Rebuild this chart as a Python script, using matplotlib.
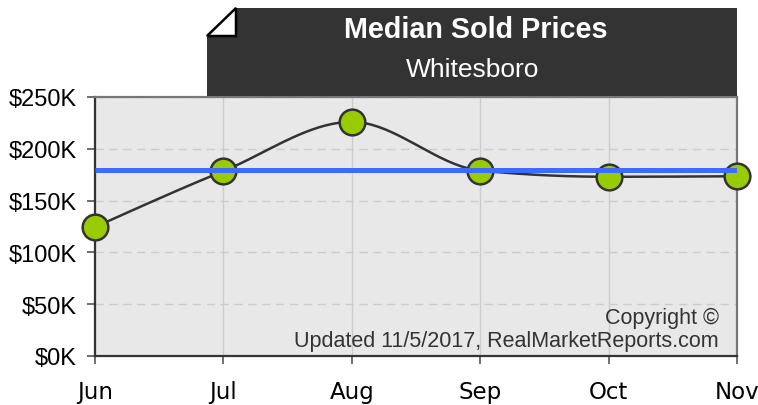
import numpy as np
import matplotlib
matplotlib.use('Agg')
import matplotlib.pyplot as plt
from matplotlib.patches import Polygon
from matplotlib.ticker import FuncFormatter

# data
months = ['Jun', 'Jul', 'Aug', 'Sep', 'Oct', 'Nov']
median_price = [124.5, 178.5, 226, 179, 173, 173.5]   # $K
avg_line = 180                                         # $K, blue reference line
y_ticks = [0, 50, 100, 150, 200, 250]
title = 'Median Sold Prices'
subtitle = 'Whitesboro'
note = 'Copyright \u00a9\nUpdated 11/5/2017, RealMarketReports.com'

W, H = 758, 406
fig = plt.figure(figsize=(W / 100, H / 100), dpi=100)

def fx(px):
    return px / W

def fy(py):
    return 1 - py / H

ax = fig.add_axes([fx(95), fy(357), fx(737) - fx(95), fy(98) - fy(357)])
ax.set_facecolor('#e8e8e8')

# monotone cubic curve through the points (like d3 curveMonotoneX)
x = np.arange(len(months), dtype=float)
y = np.array(median_price, dtype=float)
s = np.diff(y)
m = np.zeros_like(y)
for i in range(1, len(y) - 1):
    p = (s[i - 1] + s[i]) / 2
    m[i] = (np.sign(s[i - 1]) + np.sign(s[i])) * min(abs(s[i - 1]), abs(s[i]), 0.5 * abs(p))
m[0] = (3 * s[0] - m[1]) / 2
m[-1] = (3 * s[-1] - m[-2]) / 2
xs, ys = [], []
for i in range(len(y) - 1):
    t = np.linspace(0, 1, 40)
    h00 = 2 * t**3 - 3 * t**2 + 1
    h10 = t**3 - 2 * t**2 + t
    h01 = -2 * t**3 + 3 * t**2
    h11 = t**3 - t**2
    xs.extend(x[i] + t)
    ys.extend(h00 * y[i] + h10 * m[i] + h01 * y[i + 1] + h11 * m[i + 1])

ax.plot(xs, ys, color='#333333', lw=1.8, zorder=3)
ax.plot(x, y, 'o', ms=18.5, mfc='#99cc00', mec='#333333', mew=1.8, zorder=4, clip_on=False)
ax.plot([x[0], x[-1]], [avg_line, avg_line], color='#3d6bff', lw=3.6, zorder=5, solid_capstyle='butt')

ax.set_xlim(0, len(months) - 1)
ax.set_ylim(0, 250)
ax.set_xticks(x)
ax.set_xticklabels(months, fontfamily='DejaVu Sans', fontsize=16.5)
ax.set_yticks(y_ticks)
ax.yaxis.set_major_formatter(FuncFormatter(lambda v, _: '$%dK' % v))
for lab in ax.get_yticklabels():
    lab.set_fontfamily('Liberation Sans')
    lab.set_fontsize(17)

ax.tick_params(axis='y', length=6, width=1.2, color='#555555', pad=7, labelcolor='black')
ax.tick_params(axis='x', length=6, width=1.2, color='#555555', pad=11, labelcolor='black')

ax.grid(axis='x', color='#cccccc', lw=1, ls='-')
ax.grid(axis='y', color='#cccccc', lw=1, ls=(0, (6, 4)))
ax.set_axisbelow(True)

for side in ['left', 'bottom']:
    ax.spines[side].set_color('#333333')
    ax.spines[side].set_linewidth(1.6)
for side in ['top', 'right']:
    ax.spines[side].set_color('#777777')
    ax.spines[side].set_linewidth(1.6)

ax.text(0.972, 0.018, note, transform=ax.transAxes, ha='right', va='bottom',
        fontfamily='Liberation Sans', fontsize=15.5, color='#333333', linespacing=1.15, zorder=6)

# header box with folded corner
box = Polygon([(fx(207), fy(97)), (fx(207), fy(37)), (fx(236), fy(9)),
               (fx(737), fy(9)), (fx(737), fy(97))],
              closed=True, transform=fig.transFigure, facecolor='#333333', edgecolor='none')
fold = Polygon([(fx(207), fy(37)), (fx(236), fy(9)), (fx(236), fy(37))],
               closed=True, transform=fig.transFigure, facecolor='white', edgecolor='black', lw=1.8)
fig.add_artist(box)
fig.add_artist(fold)
fig.text(fx(476), fy(30), title, ha='center', va='center', color='white',
         fontfamily='Liberation Sans', fontweight='bold', fontsize=20.7)
fig.text(fx(473), fy(70), subtitle, ha='center', va='center', color='white',
         fontfamily='Liberation Sans', fontsize=19)

fig.savefig('out.png', dpi=100)
